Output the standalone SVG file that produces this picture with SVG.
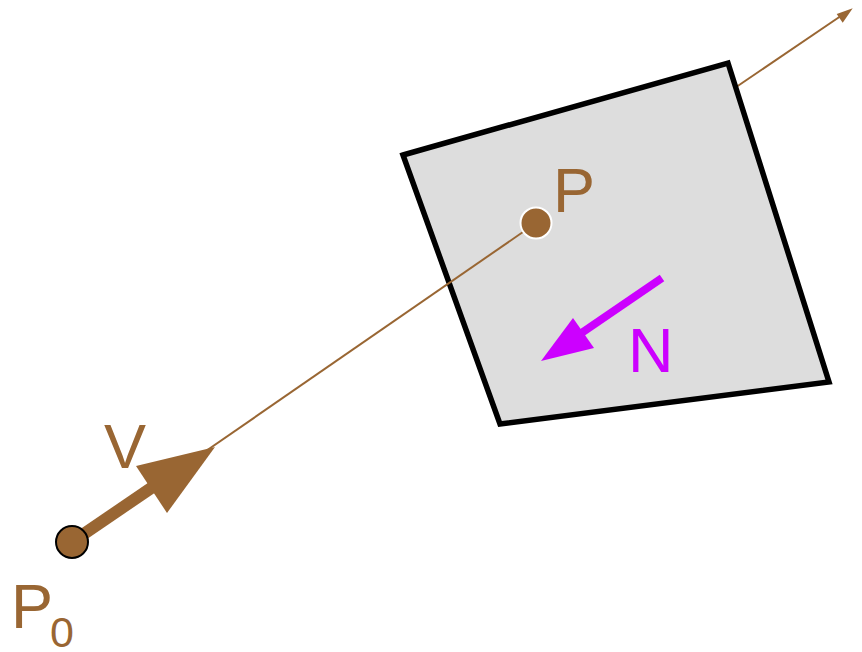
<svg xmlns="http://www.w3.org/2000/svg" width="862" height="652" viewBox="0 0 862 652">
<style>
.ray{stroke:#996633;stroke-width:2;fill:none}
.lbl{font-family:"Liberation Sans",Arial,sans-serif;font-size:63px;fill:#996633}
</style>
<rect width="862" height="652" fill="#ffffff"/>
<g id="connectors">
<line class="ray" x1="536" y1="223" x2="843" y2="14.5"/>
<polygon points="852.7,8.3 836.7,14 842.7,22.7" fill="#996633"/>
</g>
<g id="plane">
<polygon points="403,155 728,63 829,382 500,424" fill="#dddddd" stroke="#000000" stroke-width="5.5" stroke-linejoin="miter"/>
</g>
<g id="ray-near">
<line class="ray" x1="190" y1="462" x2="536" y2="223"/>
</g>
<g id="V">
<line x1="72" y1="542" x2="160" y2="482" stroke="#996633" stroke-width="12"/>
<polygon points="215,447 136,466 167,513" fill="#996633"/>
<text class="lbl" x="104" y="468">V</text>
</g>
<g id="P0">
<circle cx="72" cy="542" r="16" fill="#996633" stroke="#000000" stroke-width="2"/>
<text class="lbl" x="11" y="628">P</text>
<text class="lbl" x="50" y="647" style="font-size:43px">0</text>
</g>
<g id="P">
<circle cx="536" cy="223" r="15.5" fill="#996633" stroke="#ffffff" stroke-width="2"/>
<text class="lbl" x="553" y="212">P</text>
</g>
<g id="N">
<line x1="662" y1="278" x2="580" y2="334" stroke="#cc00ff" stroke-width="8"/>
<polygon points="541,361 573,318 594,348" fill="#cc00ff"/>
<text class="lbl" x="628" y="372" style="fill:#cc00ff">N</text>
</g>
</svg>
